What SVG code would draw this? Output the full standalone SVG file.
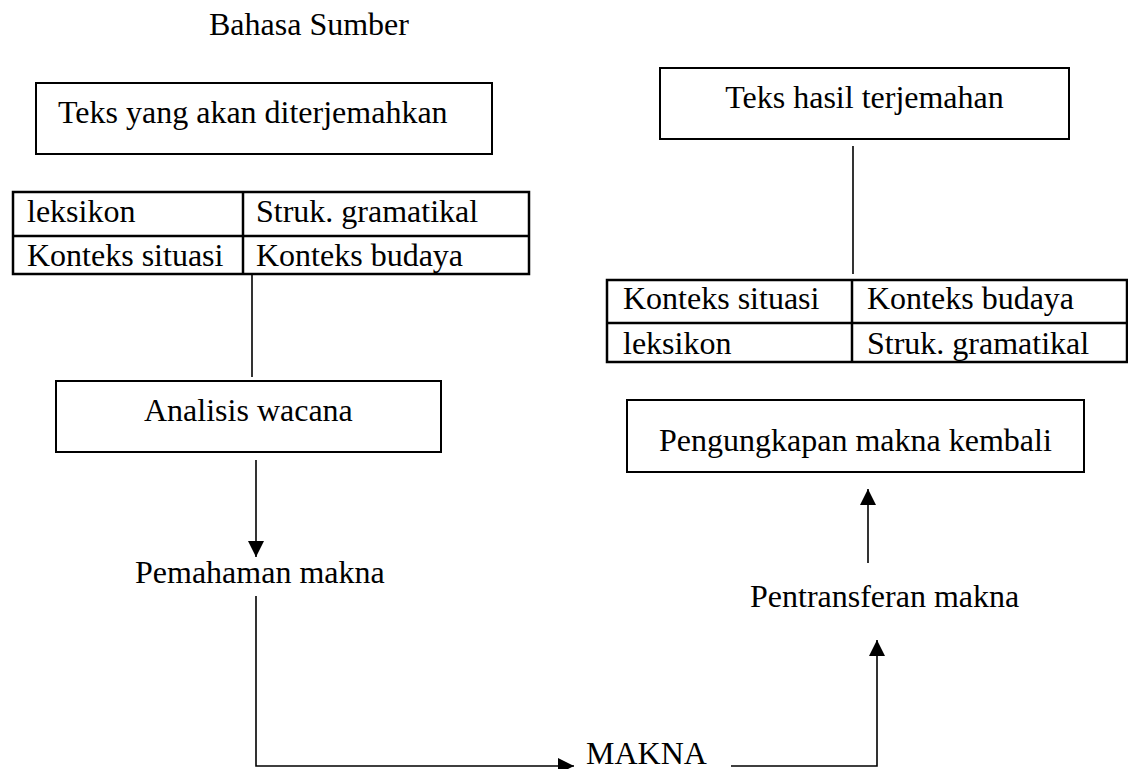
<svg xmlns="http://www.w3.org/2000/svg" width="1128" height="769" viewBox="0 0 1128 769">
<defs>
<style>
text{font-family:"Liberation Serif","Times New Roman",serif;font-size:32px;fill:#000}
.box{fill:none;stroke:#000;stroke-width:2}
.tbl{fill:none;stroke:#000;stroke-width:2.5}
.ln{fill:none;stroke:#000;stroke-width:1.6}
</style>
<marker id="ah" markerUnits="userSpaceOnUse" markerWidth="16" markerHeight="16" refX="16" refY="8" orient="auto">
<path d="M0,0 L16,8 L0,16 z" fill="#000"/>
</marker>
</defs>
<rect width="1128" height="769" fill="#fff"/>
<g id="title"><text x="209" y="35">Bahasa Sumber</text></g>
<g id="n-source">
<rect class="box" x="36" y="83" width="456" height="71"/>
<text x="58" y="123">Teks yang akan diterjemahkan</text>
</g>
<g id="n-src-table">
<rect class="tbl" x="13" y="192" width="516" height="82"/>
<line class="tbl" x1="13" y1="236" x2="529" y2="236"/>
<line class="tbl" x1="243" y1="192" x2="243" y2="274"/>
<text x="27" y="222">leksikon</text>
<text x="256" y="222">Struk. gramatikal</text>
<text x="27" y="266">Konteks situasi</text>
<text x="256" y="266">Konteks budaya</text>
</g>
<g id="n-analisis">
<rect class="box" x="56" y="381" width="385" height="71"/>
<text x="144" y="421">Analisis wacana</text>
</g>
<g id="n-pemahaman"><text x="135" y="583">Pemahaman makna</text></g>
<g id="n-makna"><text x="586" y="764">MAKNA</text></g>
<g id="n-pentransferan"><text x="750" y="607">Pentransferan makna</text></g>
<g id="n-pengungkapan">
<rect class="box" x="627" y="400" width="457" height="72"/>
<text x="659" y="451">Pengungkapan makna kembali</text>
</g>
<g id="n-tgt-table">
<rect class="tbl" x="607" y="280" width="520" height="82"/>
<line class="tbl" x1="607" y1="323" x2="1127" y2="323"/>
<line class="tbl" x1="852" y1="280" x2="852" y2="362"/>
<text x="623" y="309">Konteks situasi</text>
<text x="867" y="309">Konteks budaya</text>
<text x="623" y="354">leksikon</text>
<text x="867" y="354">Struk. gramatikal</text>
</g>
<g id="n-target">
<rect class="box" x="660" y="68" width="409" height="71"/>
<text x="864.5" y="108" text-anchor="middle">Teks hasil terjemahan</text>
</g>
<g id="connectors">
<line class="ln" x1="252" y1="274" x2="252" y2="377"/>
<line class="ln" x1="256" y1="460" x2="256" y2="557" marker-end="url(#ah)"/>
<polyline class="ln" points="256,596 256,766 574,766" marker-end="url(#ah)"/>
<polyline class="ln" points="731,766 877,766 877,640" marker-end="url(#ah)"/>
<line class="ln" x1="868" y1="563" x2="868" y2="489" marker-end="url(#ah)"/>
<line class="ln" x1="853" y1="146" x2="853" y2="274"/>
</g>
</svg>
